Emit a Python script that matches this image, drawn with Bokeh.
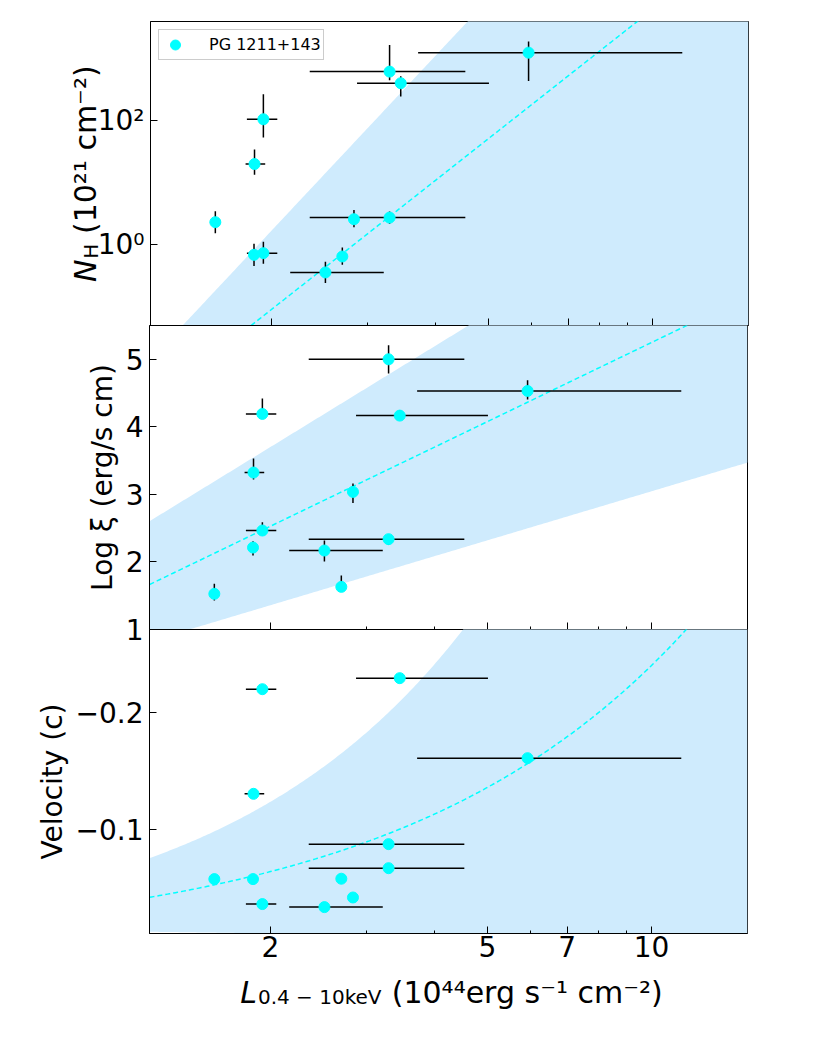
import math
import numpy as np
from bokeh.plotting import figure
from bokeh.models import Range1d, FixedTicker, Legend, LegendItem
from bokeh.layouts import column, row
from bokeh.core.properties import value
from bokeh.embed import file_html
from bokeh.resources import INLINE

FONT = "DejaVu Sans"
BAND = "#cfebfd"
CYAN = "#00ffff"

# ---------------- data ----------------
lum      = [1.578, 1.858, 1.933, 1.933, 1.862, 2.512, 2.698, 2.834, 3.294, 3.294, 3.453, 5.925]
lum_lo   = [1.578, 1.858, 1.803, 1.803, 1.793, 2.165, 2.650, 2.834, 2.351, 2.351, 2.871, 3.716]
lum_hi   = [1.578, 1.858, 2.050, 2.050, 1.948, 3.214, 2.750, 2.834, 4.536, 4.536, 5.012, 11.34]

nh       = [2.32, 0.690, 0.734, 106.0, 20.1, 0.359, 0.649, 2.59, 2.75, 622.0, 404.0, 1257.0]
nh_lo    = [1.54, 0.454, 0.495, 53.9, 13.5, 0.242, 0.477, 1.92, 2.18, 451.0, 246.0, 440.0]
nh_hi    = [3.48, 1.04, 1.12, 268.0, 34.6, 0.533, 0.906, 3.66, 3.44, 1669.0, 523.0, 1912.0]

logxi    = [1.528, 2.213, 2.465, 4.191, 3.323, 2.169, 1.631, 3.037, 2.337, 5.000, 4.166, 4.531]
logxi_lo = [1.429, 2.095, 2.401, 4.122, 3.219, 2.006, 1.572, 2.874, 2.258, 4.788, 4.112, 4.403]
logxi_hi = [1.676, 2.307, 2.588, 4.418, 3.530, 2.317, 1.799, 3.160, 2.396, 5.207, 4.245, 4.689]

vel      = [-0.0577, -0.0577, -0.0364, -0.2196, -0.1304, -0.0338, -0.058, -0.042, -0.0875, -0.067, -0.229, -0.1608]

# fitted relations (log NH = a + b log L ; log xi = a + b log L ; v = -A L^b)
nh_fit, nh_band_hi, nh_band_lo = (-3.127, 6.923), (-2.596, 9.38), (-3.9, 2.0)
xi_fit, xi_band_hi, xi_band_lo = (1.3575, 3.891), (2.2104, 4.953), (0.6332, 2.4127)
v_fit, v_band_hi, v_band_lo = (0.0363, 0.82), (0.0634, 0.963), (0.01332, -0.218)

# ticks
x_ticks, x_minor, x_labels = [2, 5, 7, 10], [3, 4, 6, 8, 9], ["2", "5", "7", "10"]
nh_ticks, nh_labels = [1, 100], ["10⁰", "10²"]
xi_ticks, xi_labels = [1, 2, 3, 4, 5], ["1", "2", "3", "4", "5"]
v_ticks, v_labels = [-0.2, -0.1], ["−0.2", "−0.1"]

legend_label = "PG 1211+143"
# ---------------------------------------------------------------

xr = Range1d(1.2, 15)
Lg = np.logspace(math.log10(1.2), math.log10(15), 300)
lg = np.log10(Lg)

FW, FH = 598, 304
LEFT = 149


def make(y_range, y_type, left, top, bottom):
    p = figure(x_axis_type="log", y_axis_type=y_type, x_range=xr, y_range=y_range,
               frame_width=FW, frame_height=FH, min_border_left=left, min_border_right=20,
               min_border_top=top, min_border_bottom=bottom, title=None,
               output_backend="svg", toolbar_location=None)
    p.xgrid.visible = False
    p.ygrid.visible = False
    p.outline_line_color = "black"
    p.outline_line_width = 1
    p.outline_line_alpha = 1
    p.background_fill_color = "white"
    p.border_fill_color = None
    return p


def style_axes(p, yt, yl, show_x):
    xa = p.xaxis[0]
    xa.ticker = FixedTicker(ticks=x_ticks, minor_ticks=x_minor)
    xa.major_tick_in, xa.major_tick_out = 7, 0
    xa.minor_tick_in, xa.minor_tick_out = 3, 0
    xa.major_tick_line_color = "black"
    xa.minor_tick_line_color = "black"
    xa.axis_line_color = "black"
    if show_x:
        xa.major_label_overrides = dict(zip(x_ticks, x_labels))
        xa.major_label_text_font = FONT
        xa.major_label_text_font_size = "28px"
        xa.major_label_text_color = "black"
        xa.major_label_standoff = 2
    else:
        xa.major_label_overrides = {t: "" for t in x_ticks}
        xa.major_label_text_font_size = "0px"
        xa.major_label_standoff = 0
    ya = p.yaxis[0]
    ya.ticker = FixedTicker(ticks=yt)
    ya.major_label_overrides = dict(zip(yt, yl))
    ya.major_tick_in, ya.major_tick_out = 7, 0
    ya.minor_tick_in, ya.minor_tick_out = 0, 0
    ya.major_tick_line_color = "black"
    ya.axis_line_color = "black"
    ya.major_label_text_font = FONT
    ya.major_label_text_font_size = "28px"
    ya.major_label_text_color = "black"
    ya.major_label_standoff = 6
    ya.axis_label_text_font = FONT
    ya.axis_label_text_font_size = "28px"
    ya.axis_label_text_font_style = "normal"
    ya.axis_label_text_color = "black"
    ya.axis_label_standoff = 4


def helper(fw, fh, left, right, top, bottom):
    h = figure(x_range=Range1d(0, fw), y_range=Range1d(0, fh), frame_width=fw, frame_height=fh,
               min_border_left=left, min_border_right=right, min_border_top=top,
               min_border_bottom=bottom, x_axis_location=None, y_axis_location=None,
               title=None, output_backend="svg", toolbar_location=None)
    h.xgrid.visible = False
    h.ygrid.visible = False
    h.outline_line_color = None
    h.background_fill_color = None
    h.border_fill_color = None
    return h


# approximate DejaVu Sans advance widths (em) for laying out composite labels
ADV = {' ': 0.318, '(': 0.390, ')': 0.390, '.': 0.318, '−': 0.838, 'L': 0.557, 'N': 0.748,
       'H': 0.752, 'k': 0.579, 'e': 0.615, 'V': 0.684, 'r': 0.411, 'g': 0.635, 's': 0.521,
       'c': 0.550, 'm': 0.974, '⁰': 0.401, '¹': 0.401, '²': 0.401, '⁴': 0.401, '⁻': 0.542}


def tw(s, size):
    return sum(ADV.get(ch, 0.636) for ch in s) * size


def put(h, s, x, y, size, italic, angle):
    h.text(x=[x], y=[y], text=[s], angle=angle, text_font=value(FONT),
           text_font_size=value(f"{size}px"),
           text_font_style=value("italic" if italic else "normal"),
           text_baseline=value("alphabetic"), text_align=value("left"), text_color="black")


def compose(h, pieces, start, base, vertical):
    """pieces: (text, size, italic, baseline shift, gap before) laid out along the text line."""
    pos = start
    for s, sz, it, shift, gap in pieces:
        pos += gap
        if vertical:
            put(h, s, base + shift, pos, sz, it, math.pi / 2)
        else:
            put(h, s, pos, base + shift, sz, it, 0.0)
        pos += tw(s, sz) + (1 if it else 0)


def length(pieces):
    return sum(tw(s, sz) + (1 if it else 0) + gap for s, sz, it, _, gap in pieces)


MAIN, SUB = 30, 20

# ---------------- panel 1: NH ----------------
HY_L, HY_W, OVER = 20, 84, 10
p1 = make(Range1d(0.05, 4000), "log", LEFT - HY_L - HY_W + OVER, 21, 10)
p1.margin = (0, 0, 0, -OVER)
style_axes(p1, nh_ticks, nh_labels, False)
p1.varea(x=Lg, y1=10 ** (nh_band_lo[0] + nh_band_lo[1] * lg), y2=10 ** (nh_band_hi[0] + nh_band_hi[1] * lg),
         fill_color=BAND, fill_alpha=1)
p1.line(Lg, 10 ** (nh_fit[0] + nh_fit[1] * lg), line_color=CYAN, line_width=1.5, line_dash="5 3")
p1.segment(x0=lum_lo, y0=nh, x1=lum_hi, y1=nh, line_color="black", line_width=1.5)
p1.segment(x0=lum, y0=nh_lo, x1=lum, y1=nh_hi, line_color="black", line_width=1.5)
pts1 = p1.scatter(lum, nh, size=11, fill_color=CYAN, line_color=CYAN)
leg_cross = p1.scatter(x=[], y=[], marker="cross", size=16, line_color="black", line_width=1.5)
legend = Legend(items=[LegendItem(label=legend_label, renderers=[leg_cross, pts1])],
                location="top_left", margin=8, padding=2, spacing=0,
                glyph_width=28, glyph_height=25, label_height=25, label_standoff=20,
                label_text_font=FONT, label_text_font_size="16px", label_text_color="black",
                border_line_color="#cccccc", border_line_width=1, border_line_alpha=1,
                background_fill_color="white", background_fill_alpha=0.8)
p1.add_layout(legend)

# y label of panel 1: N_H (10^21 cm^-2), in a helper strip left of the panel
hy = helper(HY_W, FH, HY_L, 0, 21, 10)
ypieces = [("N", MAIN, True, 0, 0), ("H", SUB, False, 5, 0),
           ("(10²¹ cm⁻²)", MAIN, False, 0, tw(" ", MAIN))]
compose(hy, ypieces, FH / 2 - length(ypieces) / 2, 85 - HY_L, True)

# ---------------- panel 2: log xi ----------------
p2 = make(Range1d(1, 5.5), "linear", LEFT, 0, 24)
p2.margin = (-10, 0, 0, 0)
style_axes(p2, xi_ticks, xi_labels, False)
p2.yaxis[0].axis_label = "Log ξ (erg/s cm)"
p2.varea(x=Lg, y1=xi_band_lo[0] + xi_band_lo[1] * lg, y2=xi_band_hi[0] + xi_band_hi[1] * lg,
         fill_color=BAND, fill_alpha=1)
p2.line(Lg, xi_fit[0] + xi_fit[1] * lg, line_color=CYAN, line_width=1.5, line_dash="5 3")
p2.segment(x0=lum_lo, y0=logxi, x1=lum_hi, y1=logxi, line_color="black", line_width=1.5)
p2.segment(x0=lum, y0=logxi_lo, x1=lum, y1=logxi_hi, line_color="black", line_width=1.5)
p2.scatter(lum, logxi, size=11, fill_color=CYAN, line_color=CYAN)

# ---------------- panel 3: velocity ----------------
P3_BOTTOM = 60
p3 = make(Range1d(-0.0113, -0.2705), "linear", LEFT, 0, P3_BOTTOM)
p3.margin = (-24, 0, 0, 0)
style_axes(p3, v_ticks, v_labels, True)
p3.yaxis[0].axis_label = "Velocity (c)"
p3.varea(x=Lg, y1=-v_band_lo[0] * Lg ** v_band_lo[1], y2=-v_band_hi[0] * Lg ** v_band_hi[1],
         fill_color=BAND, fill_alpha=1)
p3.line(Lg, -v_fit[0] * Lg ** v_fit[1], line_color=CYAN, line_width=1.5, line_dash="5 3")
p3.segment(x0=lum_lo, y0=vel, x1=lum_hi, y1=vel, line_color="black", line_width=1.5)
p3.scatter(lum, vel, size=11, fill_color=CYAN, line_color=CYAN)

# x label: L_{0.4-10keV} (10^44 erg s^-1 cm^-2), in a transparent helper strip below
HX_TOP, HX_H = 950, 80
hx = helper(FW, HX_H, LEFT, 20, 0, 0)
hx.margin = (-(933 + P3_BOTTOM - HX_TOP), 0, 0, 0)
xpieces = [("L", MAIN, True, 0, 0), ("0.4 − 10keV", SUB, False, -4.5, 0),
           ("(10⁴⁴erg s⁻¹ cm⁻²)", MAIN, False, 0, tw(" ", MAIN))]
compose(hx, xpieces, 302.7 - length(xpieces) / 2, HX_TOP + HX_H - 991.7, False)

layout = column(row(hy, p1, spacing=0), p2, p3, hx, spacing=0)
open("out.html", "w").write(file_html(layout, INLINE))
